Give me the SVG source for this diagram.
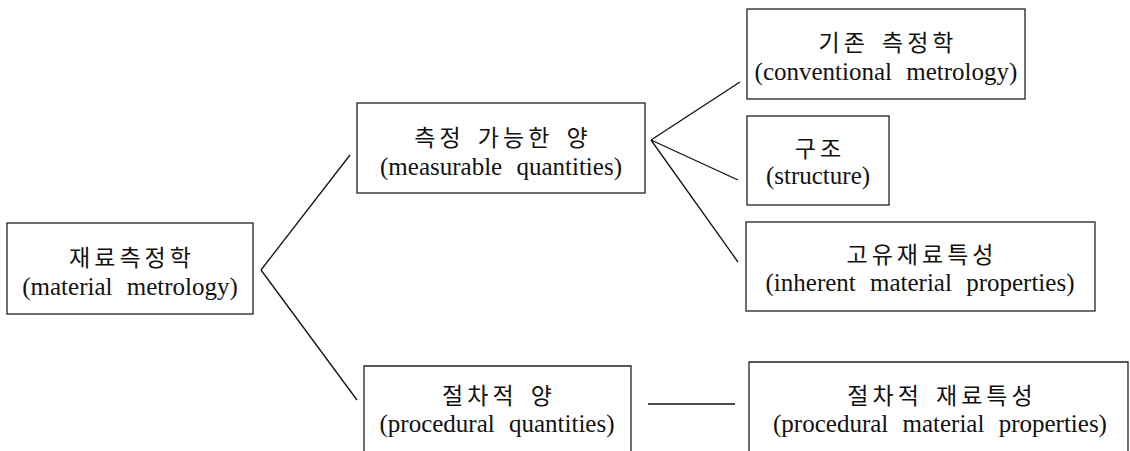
<svg xmlns="http://www.w3.org/2000/svg" width="1130" height="451" viewBox="0 0 1130 451">
<style>
.box{fill:#fff;stroke:#222;stroke-width:1.3}
.ko{font-family:"Noto Sans CJK KR","Noto Sans",sans-serif;font-size:23px;fill:#111;text-anchor:middle;letter-spacing:4px;word-spacing:4px}
.en{font-family:"Liberation Serif",serif;font-size:25px;fill:#111;text-anchor:middle;word-spacing:8px}
.ln{stroke:#111;stroke-width:1.3;fill:none}
</style>
<rect width="1130" height="451" fill="#fff"/>
<g id="connectors">
<line class="ln" x1="261" y1="270" x2="350" y2="155"/>
<line class="ln" x1="261" y1="270" x2="357" y2="400"/>
<line class="ln" x1="651" y1="140" x2="740" y2="82"/>
<line class="ln" x1="651" y1="140" x2="738" y2="180"/>
<line class="ln" x1="651" y1="140" x2="738" y2="262"/>
<line class="ln" x1="648" y1="404" x2="735" y2="404"/>
</g>
<g id="material-metrology">
<rect class="box" x="7" y="223" width="246" height="91"/>
<text class="ko" x="132" y="266">재료측정학</text>
<text class="en" x="130" y="295">(material metrology)</text>
</g>
<g id="measurable">
<rect class="box" x="357" y="103" width="288" height="90"/>
<text class="ko" x="503" y="146">측정 가능한 양</text>
<text class="en" x="501" y="175">(measurable quantities)</text>
</g>
<g id="conventional">
<rect class="box" x="747" y="9" width="278" height="90"/>
<text class="ko" x="888" y="51">기존 측정학</text>
<text class="en" x="886" y="80">(conventional metrology)</text>
</g>
<g id="structure">
<rect class="box" x="747" y="116" width="142" height="89"/>
<text class="ko" x="820" y="157">구조</text>
<text class="en" x="818" y="184">(structure)</text>
</g>
<g id="inherent">
<rect class="box" x="746" y="222" width="349" height="89"/>
<text class="ko" x="922" y="263">고유재료특성</text>
<text class="en" x="920" y="291">(inherent material properties)</text>
</g>
<g id="procedural-quantities">
<path class="box" d="M364,460 V366 H631 V460"/>
<text class="ko" x="499" y="404">절차적 양</text>
<text class="en" x="497" y="432">(procedural quantities)</text>
</g>
<g id="procedural-properties">
<path class="box" d="M749,460 V362 H1128 V460"/>
<text class="ko" x="942" y="404">절차적 재료특성</text>
<text class="en" x="940" y="432">(procedural material properties)</text>
</g>
</svg>
